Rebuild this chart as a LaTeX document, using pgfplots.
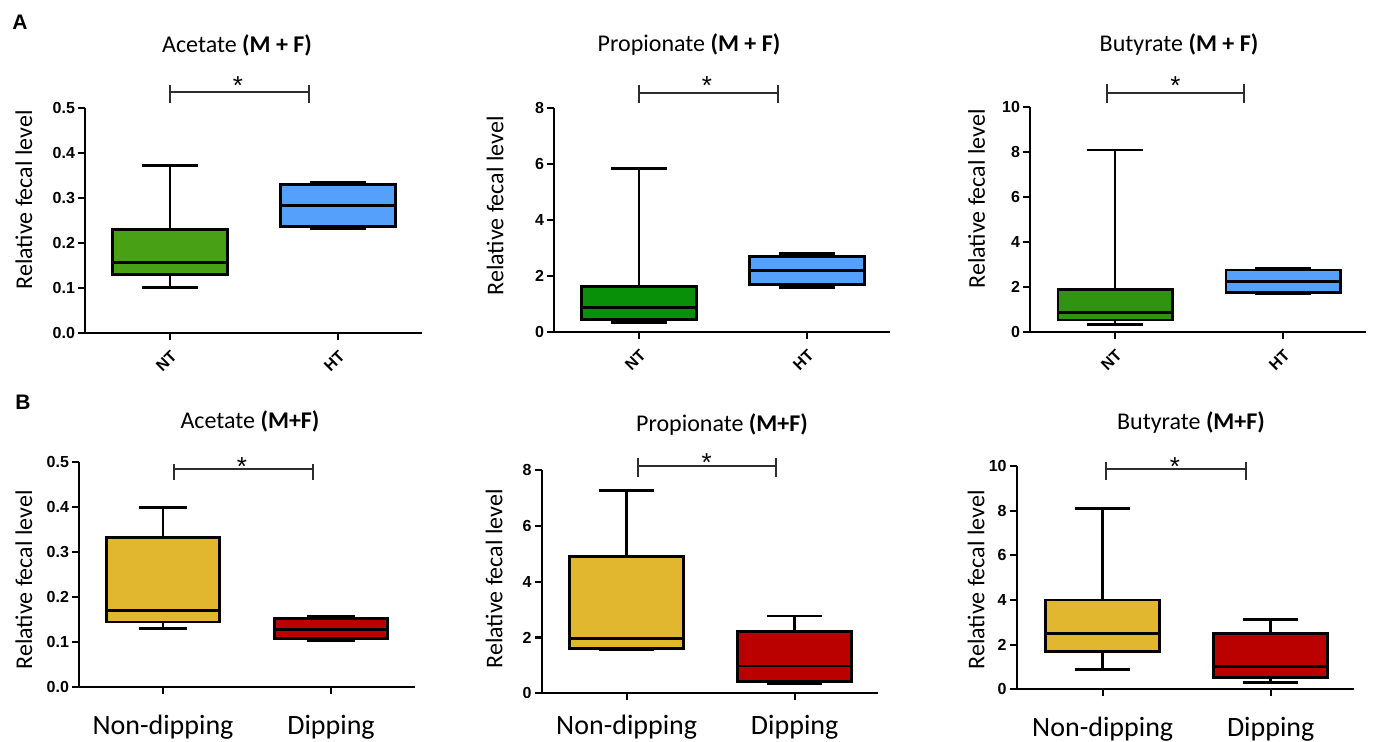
\documentclass[border=0pt]{standalone}
\usepackage{fontspec}
\setmainfont{Carlito}
\newfontfamily\arial{Liberation Sans}
\usepackage{pgfplots}
\usepgfplotslibrary{statistics}
\pgfplotsset{compat=1.18}

\definecolor{gA}{RGB}{72,160,20}
\definecolor{gB}{RGB}{8,145,8}
\definecolor{gC}{RGB}{48,148,16}
\definecolor{bl}{RGB}{85,160,250}
\definecolor{ye}{RGB}{226,183,48}
\definecolor{rd}{RGB}{187,0,0}
\definecolor{brk}{RGB}{45,45,45}

\newcommand\tickfont{\arial\bfseries\fontsize{8}{9.5}\selectfont}

\pgfplotsset{
  panel/.style={
    scale only axis,
    anchor=south west,
    axis x line*=bottom, axis y line*=left,
    axis line style={line width=1.1pt, black},
    tick style={line width=1.1pt, black},
    major tick length=3.5pt,
    tick align=outside,
    ymin=0, clip=false,
    xtick={0,1},
    yticklabel style={font=\tickfont, xshift=2pt},
    /pgf/number format/assume math mode=true,
    boxplot/draw direction=y,
  },
  rowA/.style={panel, xticklabels={NT,HT},
    xticklabel style={font=\tickfont, rotate=45, anchor=north east}},
  rowB/.style={panel, xticklabels={Non-dipping,Dipping},
    xticklabel style={font=\fontsize{14}{16}\selectfont}},
  bx/.style={line width=1.4pt, draw=black},
}
\tikzset{
  brkt/.style={brk, line width=1pt},
  star/.style={anchor=base, font=\arial\fontsize{13}{14}\selectfont, yshift=-1pt},
  ttl/.style={font=\fontsize{12}{14}\selectfont},
  ylab/.style={font=\fontsize{12}{14}\selectfont, rotate=90},
}

\begin{document}
\begin{tikzpicture}
\useasboundingbox (0,0) rectangle (687.5pt,-371pt);

% ---------------- Row A ----------------
\node[font=\arial\bfseries\fontsize{10.5}{12}\selectfont, anchor=base west, inner sep=0pt] at (6pt,-15pt) {A};

% A1 Acetate
\begin{axis}[rowA, at={(42.5pt,-166.5pt)}, width=168.5pt, height=112.5pt,
  xmin=-0.506, xmax=1.5, ymax=0.5,
  ytick={0,0.1,0.2,0.3,0.4,0.5}, yticklabels={0.0,0.1,0.2,0.3,0.4,0.5}]
\addplot[bx, fill=gA, boxplot prepared={draw position=0, lower whisker=0.102, lower quartile=0.13, median=0.157, upper quartile=0.23, upper whisker=0.373, box extend=0.68, whisker extend=0.33}] coordinates {};
\addplot[bx, fill=bl, boxplot prepared={draw position=1, lower whisker=0.232, lower quartile=0.237, median=0.283, upper quartile=0.33, upper whisker=0.335, box extend=0.68, whisker extend=0.33}] coordinates {};
\draw[brkt] (axis cs:0,0.551) -- (axis cs:0,0.511) (axis cs:0,0.535) -- (axis cs:0.83,0.535) (axis cs:0.83,0.551) -- (axis cs:0.83,0.511);
\node[star] at (axis cs:0.405,0.535) {*};
\end{axis}
\node[ttl] at (118.5pt,-22.5pt) {Acetate \textbf{(M + F)}};
\node[ylab] at (12pt,-100pt) {Relative fecal level};

% A2 Propionate
\begin{axis}[rowA, at={(277pt,-166pt)}, width=168pt, height=112pt,
  xmin=-0.506, xmax=1.494, ymax=8,
  ytick={0,2,4,6,8}]
\addplot[bx, fill=gB, boxplot prepared={draw position=0, lower whisker=0.35, lower quartile=0.45, median=0.87, upper quartile=1.63, upper whisker=5.83, box extend=0.68, whisker extend=0.33}] coordinates {};
\addplot[bx, fill=bl, boxplot prepared={draw position=1, lower whisker=1.6, lower quartile=1.7, median=2.2, upper quartile=2.71, upper whisker=2.79, box extend=0.68, whisker extend=0.33}] coordinates {};
\draw[brkt] (axis cs:0,8.82) -- (axis cs:0,8.17) (axis cs:0,8.55) -- (axis cs:0.83,8.55) (axis cs:0.83,8.82) -- (axis cs:0.83,8.17);
\node[star] at (axis cs:0.405,8.55) {*};
\end{axis}
\node[ttl] at (344.5pt,-22.5pt) {Propionate \textbf{(M + F)}};
\node[ylab] at (247.5pt,-103pt) {Relative fecal level};

% A3 Butyrate
\begin{axis}[rowA, at={(515pt,-165.85pt)}, width=168pt, height=112.2pt,
  xmin=-0.506, xmax=1.494, ymax=10,
  ytick={0,2,4,6,8,10}]
\addplot[bx, fill=gC, boxplot prepared={draw position=0, lower whisker=0.33, lower quartile=0.52, median=0.84, upper quartile=1.88, upper whisker=8.1, box extend=0.68, whisker extend=0.33}] coordinates {};
\addplot[bx, fill=bl, boxplot prepared={draw position=1, lower whisker=1.68, lower quartile=1.76, median=2.25, upper quartile=2.75, upper whisker=2.82, box extend=0.68, whisker extend=0.33}] coordinates {};
\draw[brkt] (axis cs:-0.05,11.04) -- (axis cs:-0.05,10.18) (axis cs:-0.05,10.65) -- (axis cs:0.77,10.65) (axis cs:0.77,11.04) -- (axis cs:0.77,10.18);
\node[star] at (axis cs:0.36,10.65) {*};
\end{axis}
\node[ttl] at (589.5pt,-22.5pt) {Butyrate \textbf{(M + F)}};
\node[ylab] at (488.25pt,-99.5pt) {Relative fecal level};

% ---------------- Row B ----------------
\node[font=\arial\bfseries\fontsize{10.5}{12}\selectfont, anchor=base west, inner sep=0pt] at (7.5pt,-205pt) {B};

% B1 Acetate
\begin{axis}[rowB, at={(39.5pt,-343.35pt)}, width=168pt, height=112.5pt,
  xmin=-0.5, xmax=1.5, ymax=0.5,
  xticklabel style={yshift=-7pt},
  ytick={0,0.1,0.2,0.3,0.4,0.5}, yticklabels={0.0,0.1,0.2,0.3,0.4,0.5}]
\addplot[bx, fill=ye, boxplot prepared={draw position=0, lower whisker=0.13, lower quartile=0.144, median=0.17, upper quartile=0.332, upper whisker=0.398, box extend=0.67, whisker extend=0.28}] coordinates {};
\addplot[bx, fill=rd, boxplot prepared={draw position=1, lower whisker=0.102, lower quartile=0.108, median=0.128, upper quartile=0.151, upper whisker=0.157, box extend=0.67, whisker extend=0.28}] coordinates {};
\draw[brkt] (axis cs:0.067,0.496) -- (axis cs:0.067,0.459) (axis cs:0.067,0.483) -- (axis cs:0.89,0.483) (axis cs:0.89,0.496) -- (axis cs:0.89,0.459);
\node[star, yshift=-2pt] at (axis cs:0.47,0.483) {*};
\end{axis}
\node[ttl] at (125pt,-210.85pt) {Acetate \textbf{(M+F)}};
\node[ylab] at (12pt,-290pt) {Relative fecal level};

% B2 Propionate
\begin{axis}[rowB, at={(270.85pt,-346.65pt)}, width=168.15pt, height=111.65pt,
  xmin=-0.506, xmax=1.496, ymax=8,
  xticklabel style={yshift=-4pt},
  ytick={0,2,4,6,8}]
\addplot[bx, fill=ye, boxplot prepared={draw position=0, lower whisker=1.55, lower quartile=1.61, median=1.97, upper quartile=4.9, upper whisker=7.28, box extend=0.68, whisker extend=0.33}] coordinates {};
\addplot[bx, fill=rd, boxplot prepared={draw position=1, lower whisker=0.33, lower quartile=0.42, median=0.98, upper quartile=2.22, upper whisker=2.77, box extend=0.68, whisker extend=0.33}] coordinates {};
\draw[brkt] (axis cs:0.067,8.42) -- (axis cs:0.067,7.76) (axis cs:0.067,8.15) -- (axis cs:0.89,8.15) (axis cs:0.89,8.42) -- (axis cs:0.89,7.76);
\node[star, yshift=-2pt] at (axis cs:0.476,8.15) {*};
\end{axis}
\node[ttl] at (361pt,-212.5pt) {Propionate \textbf{(M+F)}};
\node[ylab] at (247pt,-289.5pt) {Relative fecal level};

% B3 Butyrate
\begin{axis}[rowB, at={(508.35pt,-344.65pt)}, width=168.65pt, height=111.65pt,
  xmin=-0.512, xmax=1.496, ymax=10,
  xticklabel style={yshift=-7pt},
  ytick={0,2,4,6,8,10}]
\addplot[bx, fill=ye, boxplot prepared={draw position=0, lower whisker=0.9, lower quartile=1.68, median=2.5, upper quartile=4.0, upper whisker=8.1, box extend=0.68, whisker extend=0.33}] coordinates {};
\addplot[bx, fill=rd, boxplot prepared={draw position=1, lower whisker=0.3, lower quartile=0.52, median=1.01, upper quartile=2.5, upper whisker=3.13, box extend=0.68, whisker extend=0.33}] coordinates {};
\draw[brkt] (axis cs:0.02,10.19) -- (axis cs:0.02,9.37) (axis cs:0.02,9.85) -- (axis cs:0.85,9.85) (axis cs:0.85,10.19) -- (axis cs:0.85,9.37);
\node[star, yshift=-2pt] at (axis cs:0.43,9.85) {*};
\end{axis}
\node[ttl] at (595.5pt,-211.35pt) {Butyrate \textbf{(M+F)}};
\node[ylab] at (488pt,-290pt) {Relative fecal level};

\end{tikzpicture}
\end{document}
